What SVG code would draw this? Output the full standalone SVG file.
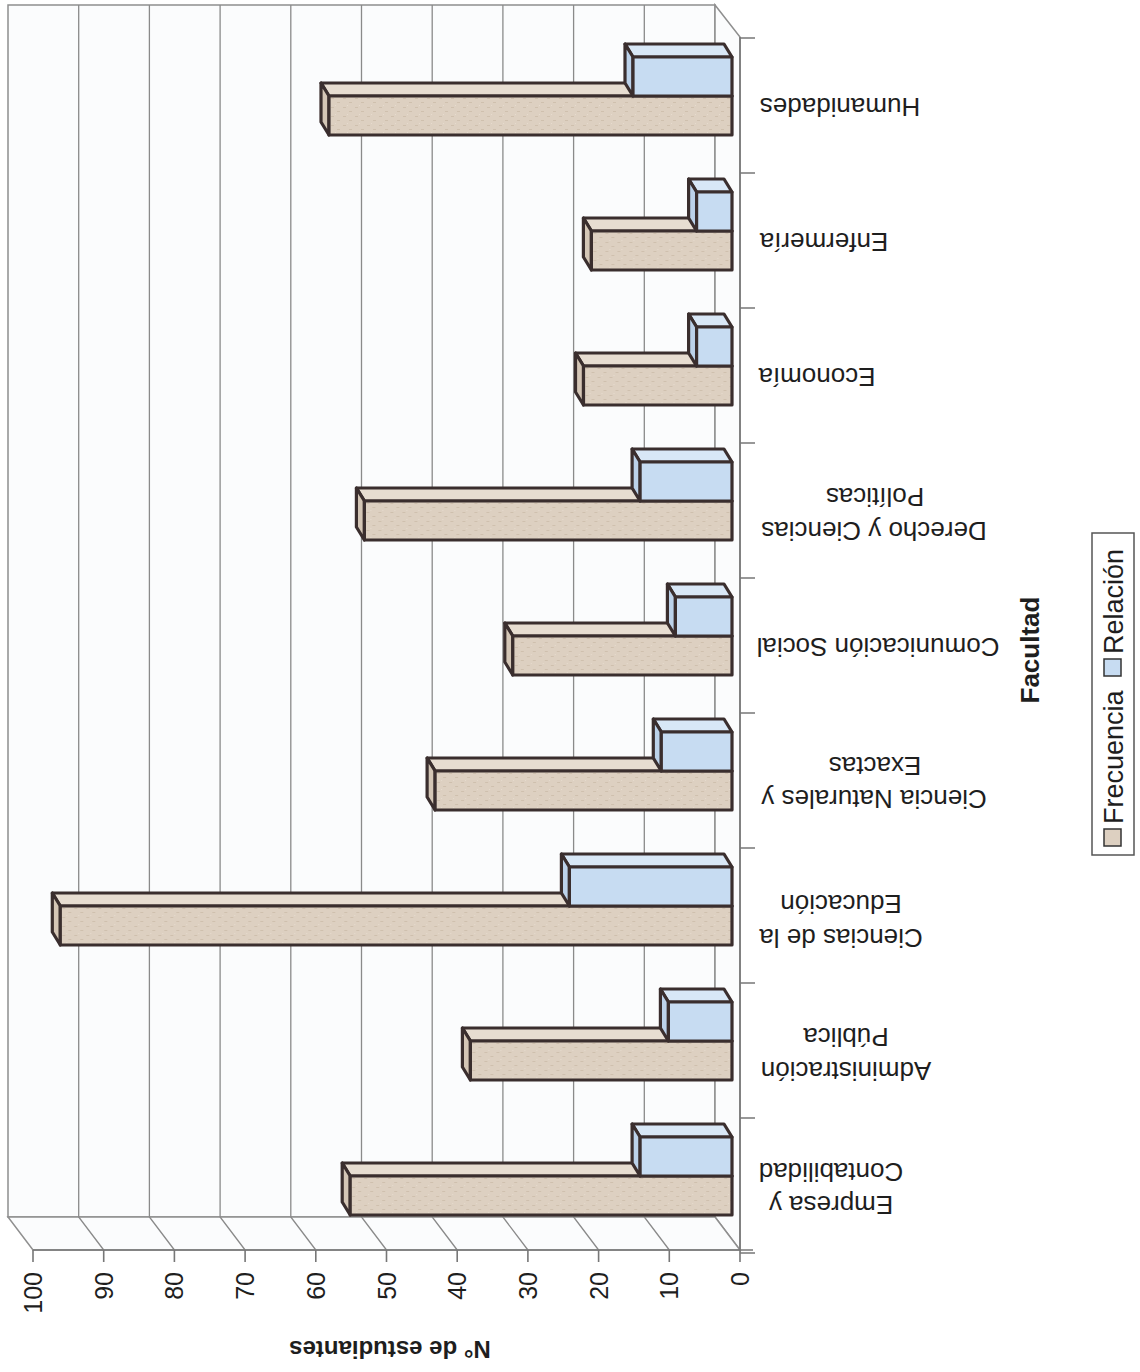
<svg xmlns="http://www.w3.org/2000/svg" width="1140" height="1372" viewBox="0 0 1140 1372">
<style>
.bg{fill:#ffffff}
.wall{fill:#fbfcfd;stroke:#8f8f8f;stroke-width:1.5}
.grid{stroke:#8a8a8a;stroke-width:1.3;fill:none}
.axis{stroke:#777;stroke-width:1.6;fill:none}
.t{font-family:"Liberation Sans",Arial,sans-serif;fill:#1e1e1e}
.cat{font-size:26px;text-anchor:middle}
.num{font-size:25px;text-anchor:end}
.title{font-size:24px;font-weight:bold;text-anchor:middle}
.bar path,.bar rect{stroke:#3a2e2e;stroke-width:3.2;stroke-linejoin:round}
.tan .top{fill:#e7ddd1}.tan .side{fill:#d4c6b6}.tan .front{fill:url(#tanTex)}
.blue .top{fill:#d8e7f6}.blue .side{fill:#bcd2ea}.blue .front{fill:#c7dcf2}
</style>
<defs>
<pattern id="tanTex" width="12" height="9" patternUnits="userSpaceOnUse">
<rect width="12" height="9" fill="#ddd0c1"/>
<rect x="2" y="2" width="3" height="1" fill="#cfc0ae"/>
<rect x="8" y="6" width="3" height="1" fill="#cfc0ae"/>
<rect x="6" y="0" width="1" height="1" fill="#e6dbce"/>
</pattern>
</defs>
<rect class="bg" width="1140" height="1372"/>
<g id="plot-area">
<rect class="wall" x="8" y="5" width="707" height="1212"/>
<path class="wall" d="M715,5 L740,37 L740,1250 L715,1217 Z"/>
<path class="wall" d="M8,1217 L715,1217 L740,1250 L33,1250 Z"/>
<g class="grid">
<path d="M644.3,5V1217L669.3,1250"/>
<path d="M573.6,5V1217L598.6,1250"/>
<path d="M502.9,5V1217L527.9,1250"/>
<path d="M432.2,5V1217L457.2,1250"/>
<path d="M361.5,5V1217L386.5,1250"/>
<path d="M290.8,5V1217L315.8,1250"/>
<path d="M220.1,5V1217L245.1,1250"/>
<path d="M149.4,5V1217L174.4,1250"/>
<path d="M78.7,5V1217L103.7,1250"/>
</g>
</g>
<g id="axes" class="axis">
<path d="M33,1250H753"/>
<path d="M740,37V1250"/>
<path d="M740,1250v12M669.3,1250v12M598.6,1250v12M527.9,1250v12M457.2,1250v12M386.5,1250v12M315.8,1250v12M245.1,1250v12M174.4,1250v12M103.7,1250v12M33,1250v12"/>
<path d="M740,38h15M740,173h15M740,308h15M740,443h15M740,578h15M740,713h15M740,848h15M740,983h15M740,1118h15M740,1253h15"/>
</g>
<g id="value-labels" class="t num">
<text x="749" y="1272" transform="rotate(-90 749 1272)">0</text>
<text x="678.3" y="1272" transform="rotate(-90 678.3 1272)">10</text>
<text x="607.6" y="1272" transform="rotate(-90 607.6 1272)">20</text>
<text x="536.9" y="1272" transform="rotate(-90 536.9 1272)">30</text>
<text x="466.2" y="1272" transform="rotate(-90 466.2 1272)">40</text>
<text x="395.5" y="1272" transform="rotate(-90 395.5 1272)">50</text>
<text x="324.8" y="1272" transform="rotate(-90 324.8 1272)">60</text>
<text x="254.1" y="1272" transform="rotate(-90 254.1 1272)">70</text>
<text x="183.4" y="1272" transform="rotate(-90 183.4 1272)">80</text>
<text x="112.7" y="1272" transform="rotate(-90 112.7 1272)">90</text>
<text x="42" y="1272" transform="rotate(-90 42 1272)">100</text>
</g>
<g id="bars">
<g id="humanidades">
<g class="bar tan" transform="translate(329,96)"><path class="top" d="M0,0h403l-8,-13h-403z"/><path class="side" d="M0,0l-8,-13v39l8,13z"/><rect class="front" width="403" height="39"/></g>
<g class="bar blue" transform="translate(633,57)"><path class="top" d="M0,0h99l-8,-13h-99z"/><path class="side" d="M0,0l-8,-13v39l8,13z"/><rect class="front" width="99" height="39"/></g>
</g>
<g id="enfermeria">
<g class="bar tan" transform="translate(591.4,231)"><path class="top" d="M0,0h140.6l-8,-13h-140.6z"/><path class="side" d="M0,0l-8,-13v39l8,13z"/><rect class="front" width="140.6" height="39"/></g>
<g class="bar blue" transform="translate(696.6,192)"><path class="top" d="M0,0h35.4l-8,-13h-35.4z"/><path class="side" d="M0,0l-8,-13v39l8,13z"/><rect class="front" width="35.4" height="39"/></g>
</g>
<g id="economia">
<g class="bar tan" transform="translate(583.5,366)"><path class="top" d="M0,0h148.5l-8,-13h-148.5z"/><path class="side" d="M0,0l-8,-13v39l8,13z"/><rect class="front" width="148.5" height="39"/></g>
<g class="bar blue" transform="translate(696.6,327)"><path class="top" d="M0,0h35.4l-8,-13h-35.4z"/><path class="side" d="M0,0l-8,-13v39l8,13z"/><rect class="front" width="35.4" height="39"/></g>
</g>
<g id="derecho">
<g class="bar tan" transform="translate(364.4,501)"><path class="top" d="M0,0h367.6l-8,-13h-367.6z"/><path class="side" d="M0,0l-8,-13v39l8,13z"/><rect class="front" width="367.6" height="39"/></g>
<g class="bar blue" transform="translate(640.1,462)"><path class="top" d="M0,0h91.9l-8,-13h-91.9z"/><path class="side" d="M0,0l-8,-13v39l8,13z"/><rect class="front" width="91.9" height="39"/></g>
</g>
<g id="comunicacion">
<g class="bar tan" transform="translate(512.8,636)"><path class="top" d="M0,0h219.2l-8,-13h-219.2z"/><path class="side" d="M0,0l-8,-13v39l8,13z"/><rect class="front" width="219.2" height="39"/></g>
<g class="bar blue" transform="translate(675.4,597)"><path class="top" d="M0,0h56.6l-8,-13h-56.6z"/><path class="side" d="M0,0l-8,-13v39l8,13z"/><rect class="front" width="56.6" height="39"/></g>
</g>
<g id="naturales">
<g class="bar tan" transform="translate(435.1,771)"><path class="top" d="M0,0h296.9l-8,-13h-296.9z"/><path class="side" d="M0,0l-8,-13v39l8,13z"/><rect class="front" width="296.9" height="39"/></g>
<g class="bar blue" transform="translate(661.3,732)"><path class="top" d="M0,0h70.7l-8,-13h-70.7z"/><path class="side" d="M0,0l-8,-13v39l8,13z"/><rect class="front" width="70.7" height="39"/></g>
</g>
<g id="educacion">
<g class="bar tan" transform="translate(60.3,906)"><path class="top" d="M0,0h671.7l-8,-13h-671.7z"/><path class="side" d="M0,0l-8,-13v39l8,13z"/><rect class="front" width="671.7" height="39"/></g>
<g class="bar blue" transform="translate(569.4,867)"><path class="top" d="M0,0h162.6l-8,-13h-162.6z"/><path class="side" d="M0,0l-8,-13v39l8,13z"/><rect class="front" width="162.6" height="39"/></g>
</g>
<g id="administracion">
<g class="bar tan" transform="translate(470.4,1041)"><path class="top" d="M0,0h261.6l-8,-13h-261.6z"/><path class="side" d="M0,0l-8,-13v39l8,13z"/><rect class="front" width="261.6" height="39"/></g>
<g class="bar blue" transform="translate(668.4,1002)"><path class="top" d="M0,0h63.6l-8,-13h-63.6z"/><path class="side" d="M0,0l-8,-13v39l8,13z"/><rect class="front" width="63.6" height="39"/></g>
</g>
<g id="empresa">
<g class="bar tan" transform="translate(350.2,1176)"><path class="top" d="M0,0h381.8l-8,-13h-381.8z"/><path class="side" d="M0,0l-8,-13v39l8,13z"/><rect class="front" width="381.8" height="39"/></g>
<g class="bar blue" transform="translate(640.1,1137)"><path class="top" d="M0,0h91.9l-8,-13h-91.9z"/><path class="side" d="M0,0l-8,-13v39l8,13z"/><rect class="front" width="91.9" height="39"/></g>
</g>
</g>
<g id="category-labels" class="t cat">
<text x="840" y="98" transform="rotate(180 840 98)">Humanidades</text>
<text x="824" y="233" transform="rotate(180 824 233)">Enfermería</text>
<text x="817" y="368" transform="rotate(180 817 368)">Economía</text>
<text x="874" y="522" transform="rotate(180 874 522)">Derecho y Ciencias</text>
<text x="875" y="488" transform="rotate(180 875 488)">Políticas</text>
<text x="878" y="638" transform="rotate(180 878 638)">Comunicación Social</text>
<text x="874" y="790" transform="rotate(180 874 790)">Ciencia Naturales y</text>
<text x="875" y="757" transform="rotate(180 875 757)">Exactas</text>
<text x="841" y="929" transform="rotate(180 841 929)">Ciencias de la</text>
<text x="841" y="895" transform="rotate(180 841 895)">Educación</text>
<text x="846" y="1062" transform="rotate(180 846 1062)">Administración</text>
<text x="846" y="1028" transform="rotate(180 846 1028)">Pública</text>
<text x="831" y="1196" transform="rotate(180 831 1196)">Empresa y</text>
<text x="831" y="1163" transform="rotate(180 831 1163)">Contabilidad</text>
</g>
<g id="axis-titles" class="t title">
<text x="390" y="1341" transform="rotate(180 390 1341)">N° de estudiantes</text>
<text x="1039" y="650" font-size="26" transform="rotate(-90 1039 650)">Facultad</text>
</g>
<g id="legend">
<rect x="1092" y="533" width="42" height="322" fill="#ffffff" stroke="#555" stroke-width="1.5"/>
<rect x="1104" y="829" width="17" height="17" fill="#ddd0c1" stroke="#333" stroke-width="1.5"/>
<text class="t" x="1123" y="824" font-size="27" transform="rotate(-90 1123 824)">Frecuencia</text>
<rect x="1104" y="659" width="17" height="17" fill="#c7dcf2" stroke="#333" stroke-width="1.5"/>
<text class="t" x="1123" y="654" font-size="27" transform="rotate(-90 1123 654)">Relación</text>
</g>
</svg>
